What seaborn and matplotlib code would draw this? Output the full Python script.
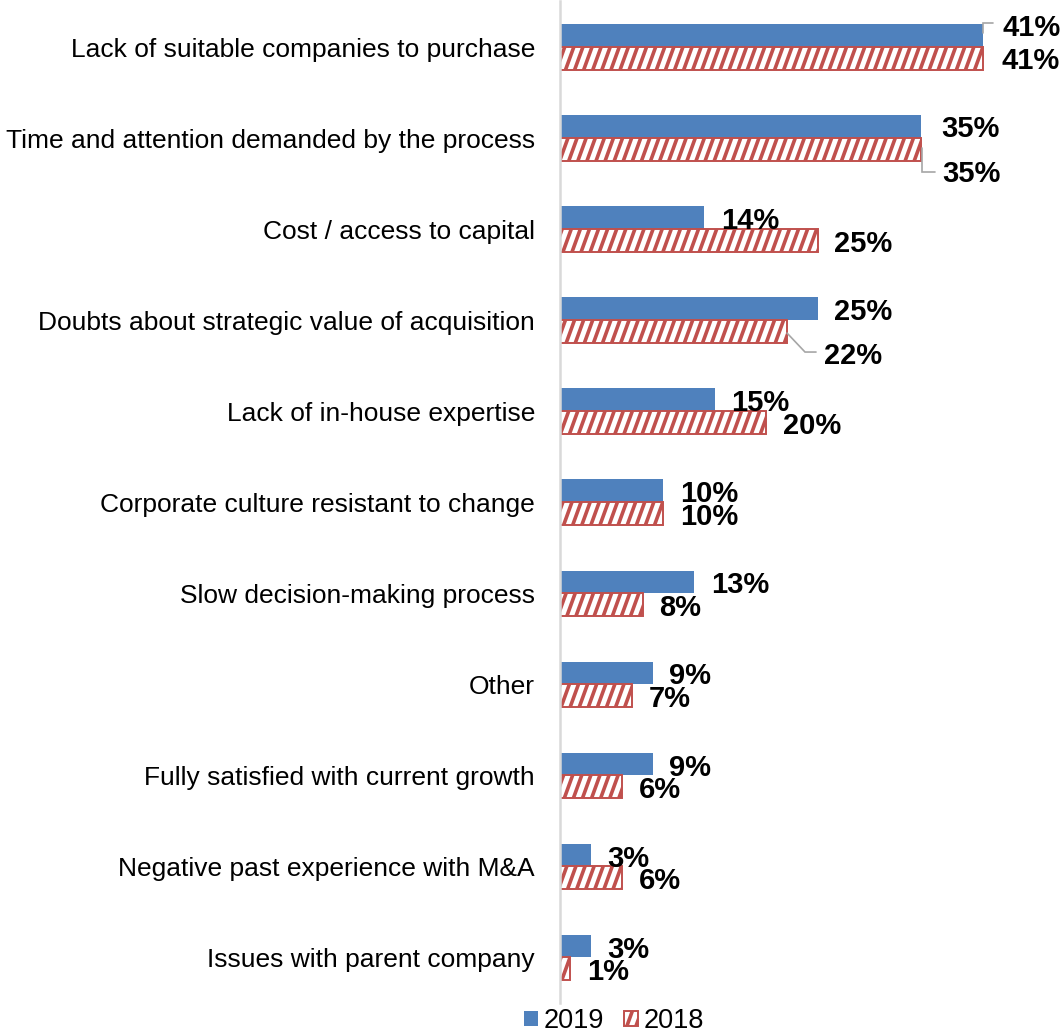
import matplotlib
matplotlib.use("Agg")
import numpy as np
import matplotlib.pyplot as plt
import matplotlib.patches as mpatches
import matplotlib.hatch as mhatch
from matplotlib.path import Path
import seaborn as sns
import pandas as pd

# Survey: reasons holding companies back from acquisitions
categories = [
    "Lack of suitable companies to purchase",
    "Time and attention demanded by the process",
    "Cost / access to capital",
    "Doubts about strategic value of acquisition",
    "Lack of in-house expertise",
    "Corporate culture resistant to change",
    "Slow decision-making process",
    "Other",
    "Fully satisfied with current growth",
    "Negative past experience with M&A",
    "Issues with parent company",
]
values_2019 = [41, 35, 14, 25, 15, 10, 13, 9, 9, 3, 3]
values_2018 = [41, 35, 25, 22, 20, 10, 8, 7, 6, 6, 1]
years = ["2019", "2018"]

BLUE = "#4F81BD"
RED = "#C0504D"


class SteepForwardHatch(mhatch.HatchPatternBase):
    """Steep '/' stripes, like the light upward diagonal fill of office charts."""

    def __init__(self, hatch, density):
        self.num_lines = 11 * hatch.count("/")
        self.shift = 4  # horizontal shift per tile height, in line spacings
        if self.num_lines:
            self.num_vertices = (self.num_lines + self.shift + 1) * 2
        else:
            self.num_vertices = 0

    def set_vertices_and_codes(self, vertices, codes):
        n = self.num_lines
        starts = np.arange(-self.shift, n + 1) / n
        vertices[0::2, 0] = starts
        vertices[0::2, 1] = 0.0
        vertices[1::2, 0] = starts + self.shift / n
        vertices[1::2, 1] = 1.0
        codes[0::2] = Path.MOVETO
        codes[1::2] = Path.LINETO


mhatch._hatch_types = [h for h in mhatch._hatch_types
                       if h is not mhatch.NorthEastHatch] + [SteepForwardHatch]

sns.set_style("white")
plt.rcParams["font.family"] = ["Liberation Sans", "DejaVu Sans"]
plt.rcParams["hatch.linewidth"] = 2.6
plt.rcParams["hatch.color"] = RED
plt.rcParams["text.color"] = "black"

df = pd.DataFrame({
    "reason": categories * 2,
    "share": values_2019 + values_2018,
    "year": [years[0]] * len(categories) + [years[1]] * len(categories),
})

fig = plt.figure(figsize=(10.62, 10.36), dpi=100)
ax = fig.add_axes([560 / 1062, 33 / 1036, 485 / 1062, 1001.5 / 1036])

sns.barplot(data=df, y="reason", x="share", hue="year", orient="h",
            palette=[BLUE, RED], width=0.5, dodge=True, ax=ax,
            legend=False, saturation=1)

# 2018 bars: white fill with red diagonal hatching
for bar in ax.containers[1]:
    bar.set_facecolor("white")
    bar.set_edgecolor(RED)
    bar.set_hatch("/")
    bar.set_linewidth(1.4)
for bar in ax.containers[0]:
    bar.set_linewidth(0)

ax.set_xlim(0, 47)
ax.set_ylim(len(categories) - 0.5, -0.5)
ax.set_xlabel("")
ax.set_ylabel("")
ax.set_xticks([])
ax.tick_params(axis="y", length=0, pad=18, labelsize=19, labelcolor="black")
for side in ["top", "right", "bottom"]:
    ax.spines[side].set_visible(False)
ax.spines["left"].set_color("#d9d9d9")
ax.spines["left"].set_linewidth(1.8)

# Value labels: offsets in pixels (right, down) from the bar end / bar centre
PX = 0.72  # points per pixel at 100 dpi
default_off = (16.5, 1.0)
special_off = {
    (0, 0): (19, -10.5),
    (0, 1): (18, 0),
    (1, 0): (20, 0),
    (1, 1): (21, 22.5),
    (3, 1): (37, 21.5),
}
# leader lines, as (dx, dy) pixel points from the bar end
leaders = {
    (0, 0): [(0, -2.5), (0, -12.5), (10, -12.5)],
    (1, 1): [(1, -1.5), (1, 22.5), (14, 22.5)],
    (3, 1): [(0, 1.5), (18, 20.5), (29, 20.5)],
}
px_x = ax.bbox.width / (ax.get_xlim()[1] - ax.get_xlim()[0])
px_y = ax.bbox.height / (len(categories))

for s, cont in enumerate(ax.containers):
    for i, bar in enumerate(cont):
        val = bar.get_width()
        yc = bar.get_y() + bar.get_height() / 2
        dx, dy = special_off.get((i, s), default_off)
        ax.annotate(f"{val:.0f}%", xy=(val, yc),
                    xytext=(dx * PX, -(dy + 10.5) * PX), textcoords="offset points",
                    ha="left", va="baseline", fontsize=21, fontweight="bold",
                    color="black", annotation_clip=False)
        if (i, s) in leaders:
            pts = leaders[(i, s)]
            xs = [val + p[0] / px_x for p in pts]
            ys = [yc + p[1] / px_y for p in pts]
            ax.plot(xs, ys, color="#a6a6a6", lw=1.2, clip_on=False,
                    solid_joinstyle="miter")

handles = [
    mpatches.Patch(facecolor=BLUE, edgecolor=BLUE, linewidth=0, label=years[0]),
    mpatches.Patch(facecolor="white", edgecolor=RED, hatch="/", linewidth=1.4,
                   label=years[1]),
]
fig.legend(handles=handles, loc="center", bbox_to_anchor=(614 / 1062, 1 - 1021 / 1036),
           ncol=2, frameon=False, fontsize=19.5, handlelength=0.52, handleheight=0.52,
           handletextpad=0.2, columnspacing=0.75, borderpad=0, borderaxespad=0,
           labelcolor="black")

fig.savefig("out.png", dpi=100, facecolor="white")
